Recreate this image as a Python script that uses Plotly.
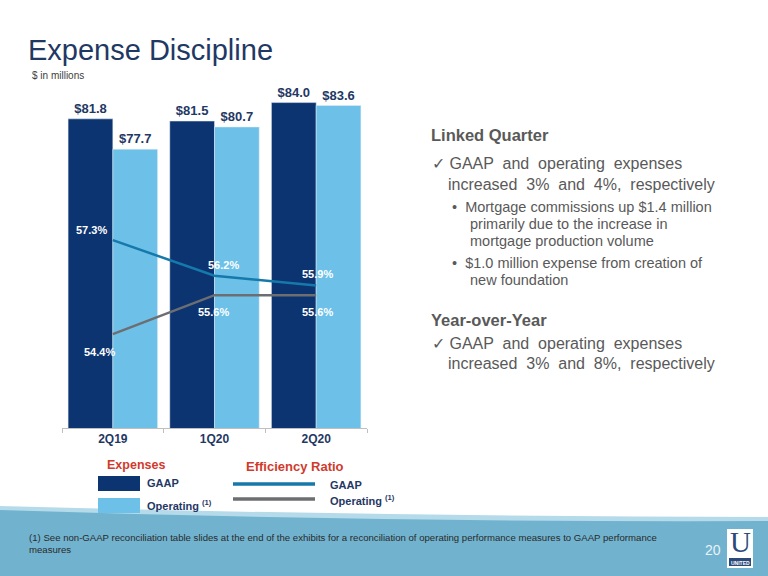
import plotly.graph_objects as go

W, H = 768, 576

# data
quarters = ["2Q19", "1Q20", "2Q20"]
gaap_expense = [81.8, 81.5, 84.0]
operating_expense = [77.7, 80.7, 83.6]
gaap_efficiency = [57.3, 56.2, 55.9]
operating_efficiency = [54.4, 55.6, 55.6]

NAVY = "#0c3471"
LIGHT = "#6dc1e9"
TEAL = "#1679ab"
GREY = "#6d6e71"
TEXT_NAVY = "#1f3864"
BODY = "#595959"
RED = "#d13a2c"
FONT = "Liberation Sans, Arial, sans-serif"


def px(x, y):
    # pixel position -> paper coords
    return x / W, 1 - y / H


fig = go.Figure()

fig.add_trace(go.Bar(
    x=quarters, y=gaap_expense, name="GAAP", marker_color=NAVY,
    texttemplate="$%{y:.1f}", textposition="outside", cliponaxis=False,
    textfont=dict(color=TEXT_NAVY, size=13, family=FONT, weight="bold"),
))
fig.add_trace(go.Bar(
    x=quarters, y=operating_expense, name="Operating", marker_color=LIGHT,
    texttemplate="$%{y:.1f}", textposition="outside", cliponaxis=False,
    textfont=dict(color=TEXT_NAVY, size=13, family=FONT, weight="bold"),
))
fig.add_trace(go.Scatter(
    x=quarters, y=gaap_efficiency, yaxis="y2", mode="lines",
    line=dict(color=TEAL, width=2.5), cliponaxis=False,
))
fig.add_trace(go.Scatter(
    x=quarters, y=operating_efficiency, yaxis="y2", mode="lines",
    line=dict(color=GREY, width=2.5), cliponaxis=False,
))

x0, y_bot = px(62, 428)
x1, y_top = px(367, 73)

fig.update_layout(
    width=W, height=H,
    margin=dict(l=0, r=0, t=0, b=0),
    paper_bgcolor="white", plot_bgcolor="white",
    showlegend=False,
    barmode="group", bargap=0.12, bargroupgap=0,
    font=dict(family=FONT),
    xaxis=dict(
        domain=[x0, x1], showline=True, linecolor="#bfbfbf", linewidth=1,
        ticks="outside", tickson="boundaries", ticklen=4, tickcolor="#bfbfbf",
        tickfont=dict(color=TEXT_NAVY, size=12, family=FONT, weight="bold"),
        showgrid=False,
    ),
    yaxis=dict(domain=[y_bot, y_top], range=[40, 88], visible=False, showgrid=False),
    yaxis2=dict(overlaying="y", range=[51.5, 62.46], visible=False, showgrid=False),
)

ann = []

# efficiency ratio labels, nudged off the lines
gaap_shift = [(-21, 10), (9, 11), (1, 11)]
op_shift = [(-13, -18), (-1, -17), (1, -17)]
for q, v, (dx, dy) in zip(quarters, gaap_efficiency, gaap_shift):
    ann.append(dict(x=q, y=v, xref="x", yref="y2", text=f"{v:.1f}%", showarrow=False,
                    xshift=dx, yshift=dy,
                    font=dict(color="white", size=11, family=FONT, weight="bold")))
for q, v, (dx, dy) in zip(quarters, operating_efficiency, op_shift):
    ann.append(dict(x=q, y=v, xref="x", yref="y2", text=f"{v:.1f}%", showarrow=False,
                    xshift=dx, yshift=dy,
                    font=dict(color="white", size=11, family=FONT, weight="bold")))


def text(x, y, s, size, color, bold=False, xanchor="left", family=FONT):
    px_x, px_y = px(x, y)
    ann.append(dict(
        x=px_x, y=px_y, xref="paper", yref="paper", text=s, showarrow=False,
        xanchor=xanchor, yanchor="middle",
        font=dict(size=size, color=color, family=family, weight="bold" if bold else "normal"),
    ))


# title
text(26, 50, "Expense Discipline", 29, TEXT_NAVY)
text(30, 75, "$ in millions", 10, "#404040")

# right-hand commentary
text(429, 135, "Linked Quarter", 16.5, BODY, bold=True)
text(430, 163, "✓ GAAP  and  operating  expenses", 16, BODY)
text(446, 184, "increased  3%  and  4%,  respectively", 16, BODY)
text(450, 207, "•  Mortgage commissions up $1.4 million", 14.5, BODY)
text(468, 224, "primarily due to the increase in", 14.5, BODY)
text(468, 241, "mortgage production volume", 14.5, BODY)
text(450, 263, "•  $1.0 million expense from creation of", 14.5, BODY)
text(468, 280, "new foundation", 14.5, BODY)
text(429, 320, "Year-over-Year", 16.5, BODY, bold=True)
text(430, 343, "✓ GAAP  and  operating  expenses", 16, BODY)
text(446, 363, "increased  3%  and  8%,  respectively", 16, BODY)

# custom legend
text(136, 465, "Expenses", 12.5, RED, bold=True, xanchor="center")
text(295, 466, "Efficiency Ratio", 13, RED, bold=True, xanchor="center")
text(145, 483, "GAAP", 11, TEXT_NAVY, bold=True)
text(145, 505, "Operating <sup>(1)</sup>", 11, TEXT_NAVY, bold=True)
text(328, 485, "GAAP", 11, TEXT_NAVY, bold=True)
text(328, 500, "Operating <sup>(1)</sup>", 11, TEXT_NAVY, bold=True)

# footer
text(27, 537, "(1) See non-GAAP reconciliation table slides at the end of the exhibits for a "
     "reconciliation of operating performance measures to GAAP performance", 9.6, "#2a2a2a")
text(27, 549, "measures", 9.6, "#2a2a2a")
text(713, 550, "20", 14, "#e8f3f8", xanchor="center")
text(740, 542, "U", 29, "#2b4a7a", xanchor="center", family="Liberation Serif, serif")
text(740, 563, "UNITED", 5, "white", bold=True, xanchor="center")

shapes = []


def rect(xa, ya, xb, yb, color):
    ax, ay = px(xa, ya)
    bx, by = px(xb, yb)
    shapes.append(dict(type="rect", xref="paper", yref="paper", x0=ax, y0=ay, x1=bx, y1=by,
                       fillcolor=color, line=dict(width=0), layer="above"))


def hline(xa, xb, y, color):
    ax, ay = px(xa, y)
    bx, _ = px(xb, y)
    shapes.append(dict(type="line", xref="paper", yref="paper", x0=ax, y0=ay, x1=bx, y1=ay,
                       line=dict(color=color, width=3.5)))


def band(y_left, y_mid, y_right, color):
    pts = [px(0, y_left), px(384, y_mid * 2 - (y_left + y_right) / 2), px(768, y_right),
           px(768, 576), px(0, 576)]
    path = "M {0[0]:.4f},{0[1]:.4f} Q {1[0]:.4f},{1[1]:.4f} {2[0]:.4f},{2[1]:.4f} " \
           "L {3[0]:.4f},{3[1]:.4f} L {4[0]:.4f},{4[1]:.4f} Z".format(*pts)
    shapes.append(dict(type="path", xref="paper", yref="paper", path=path,
                       fillcolor=color, line=dict(width=0), layer="below"))


rect(98, 476, 140, 491, NAVY)
rect(98, 498, 140, 513, LIGHT)
hline(233, 315, 484, TEAL)
hline(233, 315, 499, GREY)

band(506, 514, 517, "#b5dbea")
band(510, 519, 521, "#71b3cf")

rect(727, 529, 753, 568, "white")
rect(729, 558, 751, 566, "#2b4a7a")

fig.update_layout(annotations=ann, shapes=shapes)

fig.write_html("out.html", config={"displayModeBar": False},
               post_script="document.body.style.margin='0';")
